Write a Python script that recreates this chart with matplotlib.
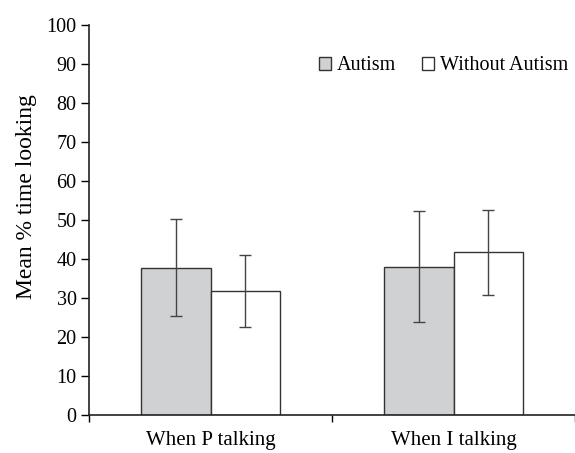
import matplotlib.pyplot as plt
from matplotlib.patches import Patch
import numpy as np

categories = ["When P talking", "When I talking"]
autism = [37.8, 38.0]
autism_low = [25.4, 23.8]
autism_high = [50.2, 52.4]
without = [31.7, 41.7]
without_low = [22.5, 30.8]
without_high = [41.0, 52.6]

plt.rcParams['font.family'] = ['Liberation Serif', 'DejaVu Serif']

fig = plt.figure(figsize=(5.75, 4.53), dpi=100)
ax = fig.add_axes([0.1548, 0.0832, 0.8452, 0.8627])

x = np.arange(len(categories))
w = 0.288
gray = '#d0d1d3'
edge = '#333333'

err_a = [np.array(autism) - np.array(autism_low), np.array(autism_high) - np.array(autism)]
err_w = [np.array(without) - np.array(without_low), np.array(without_high) - np.array(without)]

ax.bar(x - w / 2, autism, w, color=gray, edgecolor=edge, linewidth=1.0, zorder=2)
ax.bar(x + w / 2, without, w, color='white', edgecolor=edge, linewidth=1.0, zorder=2)
ax.errorbar(x - w / 2, autism, yerr=err_a, fmt='none', ecolor='#444444',
            elinewidth=1.0, capsize=4, capthick=1.0, zorder=3)
ax.errorbar(x + w / 2, without, yerr=err_w, fmt='none', ecolor='#444444',
            elinewidth=1.0, capsize=4, capthick=1.0, zorder=3)

ax.set_xlim(-0.5, 1.5)
ax.set_ylim(0, 100)
ax.set_yticks(range(0, 101, 10))
ax.tick_params(axis='y', direction='out', length=6, width=1, labelsize=14.5, pad=3)
ax.set_xticks(x)
ax.set_xticklabels(categories, fontsize=15)
ax.tick_params(axis='x', which='major', length=0, pad=11)
ax.set_xticks([-0.5, 0.5, 1.5], minor=True)
ax.tick_params(axis='x', which='minor', direction='out', length=5, width=1)

for s in ['top', 'right']:
    ax.spines[s].set_visible(False)
for s in ['left', 'bottom']:
    ax.spines[s].set_linewidth(1.2)
    ax.spines[s].set_color('#222222')

ax.set_ylabel("Mean % time looking", fontsize=17)
ax.yaxis.set_label_coords(-0.107, 0.559)

handles = [Patch(facecolor=gray, edgecolor=edge, linewidth=1.0, label='Autism'),
           Patch(facecolor='white', edgecolor=edge, linewidth=1.0, label='Without Autism')]
ax.legend(handles=handles, ncol=2, frameon=False, loc='center right',
          bbox_to_anchor=(1.023, 0.894), fontsize=14.5, handlelength=0.6,
          handleheight=0.6, handletextpad=0.3, columnspacing=1.25)

plt.savefig('out.png', dpi=100)
